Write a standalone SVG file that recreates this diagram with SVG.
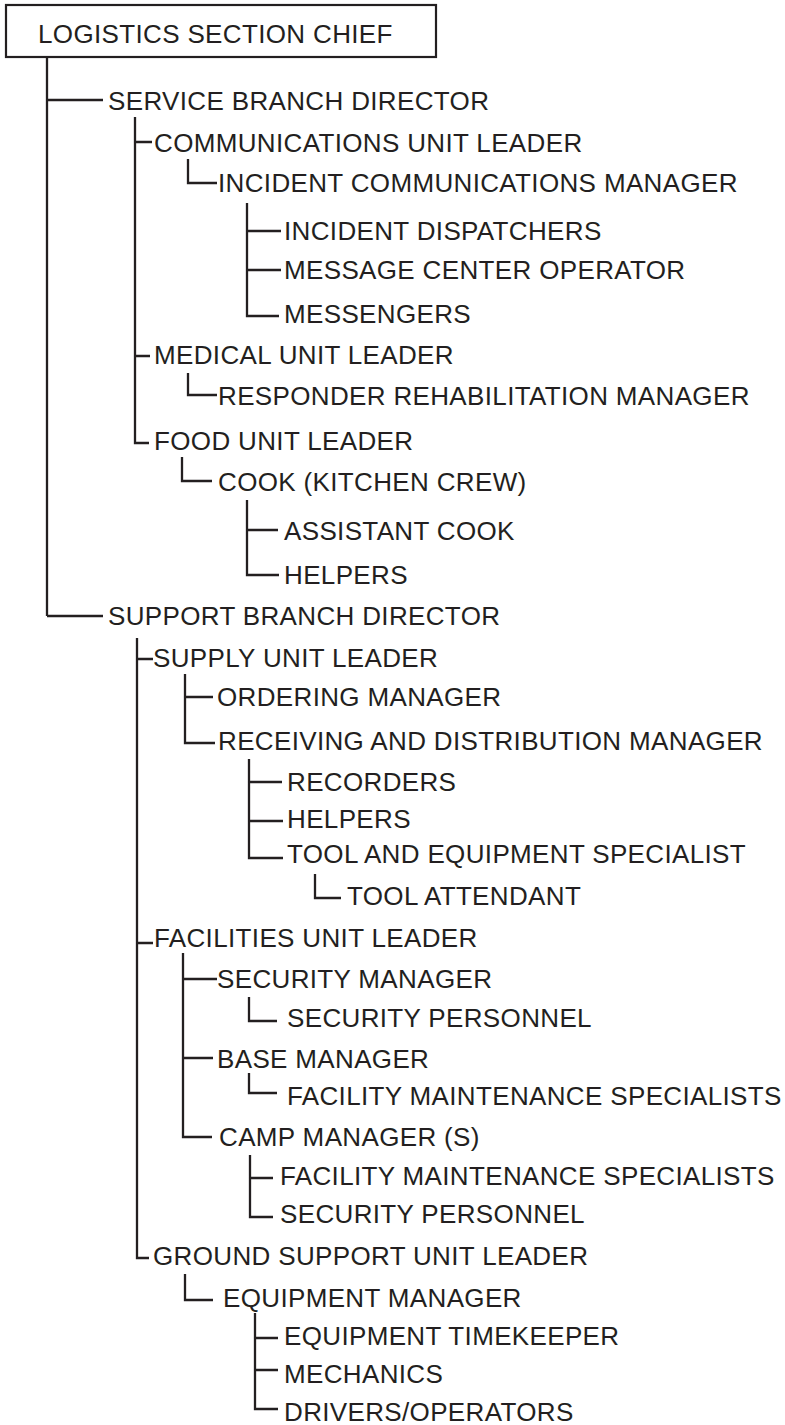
<svg xmlns="http://www.w3.org/2000/svg" width="785" height="1425" viewBox="0 0 785 1425">
  <style>
    .lbl { font-family: "Liberation Sans", Arial, Helvetica, sans-serif; font-size: 26px; letter-spacing: 0.35px; fill: #231f20; }
    .box { fill: #ffffff; stroke: #231f20; stroke-width: 2.2; }
    .ln { fill: none; stroke: #231f20; stroke-width: 2.3; stroke-linejoin: miter; stroke-linecap: butt; }
  </style>
  <rect width="785" height="1425" fill="#ffffff"/>

  <!-- tree connectors -->
  <g id="connectors" class="ln">
    <path d="M47 57V616M47 100H103M47 616H103"/>
    <!-- service branch -->
    <path d="M135 117V443H149M135 142H152M135 356H150"/>
    <path d="M188 159V183H217"/>
    <path d="M247 203V316H279M247 231H281M247 270H281"/>
    <path d="M188 373V395H217"/>
    <path d="M182 457V481H212"/>
    <path d="M247 500V575H279M247 530H278"/>
    <!-- support branch -->
    <path d="M137 638V1258H149M137 659H153M137 943H153"/>
    <path d="M185 674V743H215M185 697H213"/>
    <path d="M249 759V858H283M249 782H282M249 821H283"/>
    <path d="M315 874V898H341"/>
    <path d="M183 953V1137H212M183 979H217M183 1058H213"/>
    <path d="M249 997V1021H277"/>
    <path d="M249 1073V1093H277"/>
    <path d="M250 1155V1217H273M250 1178H273"/>
    <path d="M185 1274V1300H213"/>
    <path d="M255 1313V1409H278M255 1338H278M255 1370H278"/>
  </g>

  <g id="logistics-section-chief">
    <rect class="box" x="6" y="5" width="430" height="52"/>
    <text class="lbl" x="38" y="43">LOGISTICS SECTION CHIEF</text>
  </g>

  <g id="service-branch-director"><text class="lbl" x="108" y="110">SERVICE BRANCH DIRECTOR</text></g>
  <g id="communications-unit-leader"><text class="lbl" x="154" y="152">COMMUNICATIONS UNIT LEADER</text></g>
  <g id="incident-communications-manager"><text class="lbl" x="218" y="192">INCIDENT COMMUNICATIONS MANAGER</text></g>
  <g id="incident-dispatchers"><text class="lbl" x="284" y="240">INCIDENT DISPATCHERS</text></g>
  <g id="message-center-operator"><text class="lbl" x="284" y="279">MESSAGE CENTER OPERATOR</text></g>
  <g id="messengers"><text class="lbl" x="284" y="323">MESSENGERS</text></g>
  <g id="medical-unit-leader"><text class="lbl" x="154" y="364">MEDICAL UNIT LEADER</text></g>
  <g id="responder-rehabilitation-manager"><text class="lbl" x="218" y="405">RESPONDER REHABILITATION MANAGER</text></g>
  <g id="food-unit-leader"><text class="lbl" x="154" y="450">FOOD UNIT LEADER</text></g>
  <g id="cook"><text class="lbl" x="218" y="491">COOK (KITCHEN CREW)</text></g>
  <g id="assistant-cook"><text class="lbl" x="284" y="540">ASSISTANT COOK</text></g>
  <g id="food-helpers"><text class="lbl" x="284" y="584">HELPERS</text></g>

  <g id="support-branch-director"><text class="lbl" x="108" y="625">SUPPORT BRANCH DIRECTOR</text></g>
  <g id="supply-unit-leader"><text class="lbl" x="153" y="667">SUPPLY UNIT LEADER</text></g>
  <g id="ordering-manager"><text class="lbl" x="217" y="706">ORDERING MANAGER</text></g>
  <g id="receiving-distribution-manager"><text class="lbl" x="218" y="750">RECEIVING AND DISTRIBUTION MANAGER</text></g>
  <g id="recorders"><text class="lbl" x="287" y="791">RECORDERS</text></g>
  <g id="supply-helpers"><text class="lbl" x="287" y="828">HELPERS</text></g>
  <g id="tool-equipment-specialist"><text class="lbl" x="287" y="863">TOOL AND EQUIPMENT SPECIALIST</text></g>
  <g id="tool-attendant"><text class="lbl" x="347" y="905">TOOL ATTENDANT</text></g>
  <g id="facilities-unit-leader"><text class="lbl" x="154" y="947">FACILITIES UNIT LEADER</text></g>
  <g id="security-manager"><text class="lbl" x="217" y="988">SECURITY MANAGER</text></g>
  <g id="security-personnel-1"><text class="lbl" x="287" y="1027">SECURITY PERSONNEL</text></g>
  <g id="base-manager"><text class="lbl" x="217" y="1068">BASE MANAGER</text></g>
  <g id="facility-maintenance-1"><text class="lbl" x="287" y="1105">FACILITY MAINTENANCE SPECIALISTS</text></g>
  <g id="camp-manager"><text class="lbl" x="219" y="1146">CAMP MANAGER (S)</text></g>
  <g id="facility-maintenance-2"><text class="lbl" x="280" y="1185">FACILITY MAINTENANCE SPECIALISTS</text></g>
  <g id="security-personnel-2"><text class="lbl" x="280" y="1223">SECURITY PERSONNEL</text></g>
  <g id="ground-support-unit-leader"><text class="lbl" x="153" y="1265">GROUND SUPPORT UNIT LEADER</text></g>
  <g id="equipment-manager"><text class="lbl" x="223" y="1307">EQUIPMENT MANAGER</text></g>
  <g id="equipment-timekeeper"><text class="lbl" x="284" y="1345">EQUIPMENT TIMEKEEPER</text></g>
  <g id="mechanics"><text class="lbl" x="284" y="1383">MECHANICS</text></g>
  <g id="drivers-operators"><text class="lbl" x="284" y="1421">DRIVERS/OPERATORS</text></g>
</svg>
